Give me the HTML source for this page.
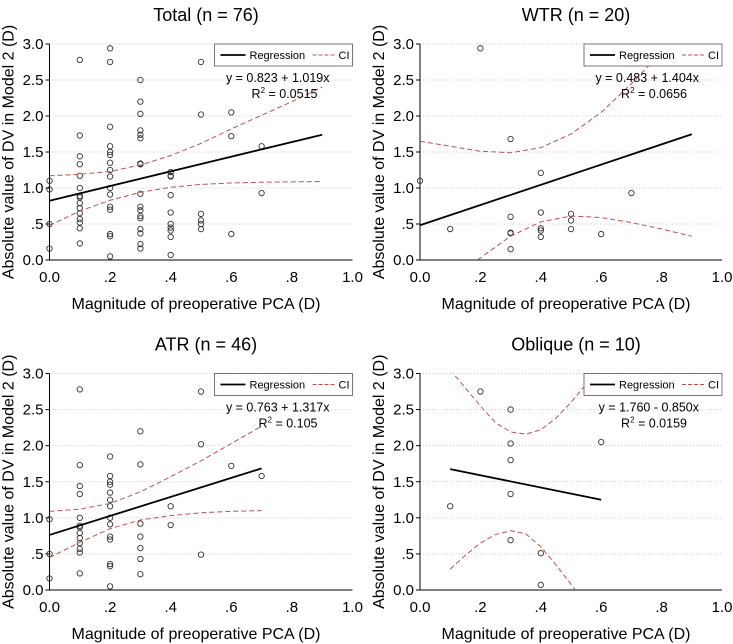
<!DOCTYPE html>
<html><head><meta charset="utf-8">
<style>
html,body{margin:0;padding:0;background:#fff;}
svg{display:block;font-family:"Liberation Sans",Arial,sans-serif;}
</style></head>
<body>
<svg id="chart" width="733" height="644" viewBox="0 0 733 644"></svg>
<script>
// ---- data ----
const yTicks = [0, 0.5, 1, 1.5, 2, 2.5, 3];
const yTickLabels = ["0.0", ".5", "1.0", "1.5", "2.0", "2.5", "3.0"];
const xTicks = [0, 0.2, 0.4, 0.6, 0.8, 1.0];
const xTickLabels = ["0.0", ".2", ".4", ".6", ".8", "1.0"];

const titles = ["Total (n = 76)", "WTR (n = 20)", "ATR (n = 46)", "Oblique (n = 10)"];
const equations = ["y = 0.823 + 1.019x", "y = 0.483 + 1.404x", "y = 0.763 + 1.317x", "y = 1.760 - 0.850x"];
const r2Values = ["0.0515", "0.0656", "0.105", "0.0159"];
const intercepts = [0.823, 0.483, 0.763, 1.760];
const slopes = [1.019, 1.404, 1.317, -0.850];
const regXRange = [[0, 0.9], [0, 0.9], [0, 0.7], [0.1, 0.6]];

const totalX = [0,0,0,0, .1,.1,.1,.1,.1,.1,.1,.1,.1,.1,.1,.1,.1,.1,.1, .2,.2,.2,.2,.2,.2,.2,.2,.2,.2,.2,.2,.2,.2,.2,.2, .3,.3,.3,.3,.3,.3,.3,.3,.3,.3,.3,.3,.3,.3,.3,.3,.3, .4,.4,.4,.4,.4,.4,.4,.4,.4,.4, .5,.5,.5,.5,.5,.5, .6,.6,.6, .7,.7];
const totalY = [1.10,0.98,0.50,0.16, 2.78,1.73,1.44,1.33,1.17,1.00,0.89,0.87,0.79,0.72,0.65,0.57,0.52,0.44,0.23, 2.94,2.75,1.85,1.58,1.50,1.46,1.35,1.25,1.16,1.00,0.91,0.74,0.70,0.36,0.33,0.05, 2.50,2.20,2.03,1.80,1.74,1.69,1.34,1.33,0.92,0.74,0.69,0.61,0.58,0.43,0.37,0.22,0.16, 1.22,1.17,1.16,0.90,0.66,0.50,0.45,0.41,0.32,0.07, 2.75,2.02,0.64,0.55,0.50,0.43, 2.05,1.72,0.36, 1.58,0.93];
const wtrX = [0,.1,.2,.3,.3,.3,.3,.3,.4,.4,.4,.4,.4,.5,.5,.5,.6,.7];
const wtrY = [1.10,0.43,2.94,1.68,0.60,0.38,0.37,0.15,1.21,0.66,0.44,0.41,0.32,0.64,0.55,0.43,0.36,0.93];
const atrX = [0,0,0, .1,.1,.1,.1,.1,.1,.1,.1,.1,.1,.1,.1,.1, .2,.2,.2,.2,.2,.2,.2,.2,.2,.2,.2,.2,.2,.2, .3,.3,.3,.3,.3,.3,.3, .4,.4, .5,.5,.5, .6, .7];
const atrY = [0.98,0.50,0.16, 2.78,1.73,1.44,1.33,1.00,0.89,0.87,0.79,0.72,0.65,0.57,0.52,0.23, 1.85,1.58,1.50,1.46,1.35,1.25,1.16,1.00,0.91,0.74,0.70,0.36,0.33,0.05, 2.20,1.74,0.92,0.74,0.58,0.43,0.22, 1.16,0.90, 2.75,2.02,0.49, 1.72, 1.58];
const oblX = [.1,.2,.3,.3,.3,.3,.3,.4,.4,.6];
const oblY = [1.16,2.75,2.50,2.03,1.80,1.33,0.69,0.51,0.07,2.05];

const ciUpX = [[0,.1,.2,.3,.4,.5,.6,.7,.8,.9],[0,.1,.2,.3,.4,.5,.6,.7,.8,.9],[0,.1,.2,.3,.4,.5,.6,.7],[.1,.15,.2,.25,.3,.35,.4,.45,.5,.55,.6]];
const ciUpY = [[1.17,1.19,1.23,1.32,1.45,1.62,1.82,2.01,2.2,2.4],[1.65,1.58,1.51,1.49,1.56,1.75,2.05,2.45,2.88,3.35],[1.09,1.12,1.20,1.36,1.57,1.79,2.03,2.27],[3.05,2.8,2.55,2.32,2.19,2.16,2.22,2.38,2.6,2.85,3.1]];
const ciLoX = [[0,.1,.2,.3,.4,.5,.6,.7,.8,.9],[.1,.19,.3,.4,.5,.6,.7,.8,.9],[0,.1,.2,.3,.4,.5,.6,.7],[.1,.15,.2,.25,.3,.35,.4,.45,.5,.55]];
const ciLoY = [[0.48,0.68,0.83,0.94,1.01,1.05,1.07,1.08,1.085,1.09],[-0.4,0,0.33,0.53,0.61,0.59,0.52,0.43,0.33],[0.45,0.66,0.85,0.97,1.03,1.07,1.09,1.10],[0.29,0.48,0.65,0.77,0.82,0.78,0.6,0.35,0.08,-0.2]];

const pointsX = [totalX, wtrX, atrX, oblX];
const pointsY = [totalY, wtrY, atrY, oblY];

// ---- layout ----
const NS = "http://www.w3.org/2000/svg";
const svg = document.getElementById('chart');
const panels = [{x0:49.5,x1:352.5,yTop:44,yBot:260},{x0:420,x1:722,yTop:44,yBot:260},{x0:49.5,x1:352.5,yTop:373.5,yBot:590},{x0:420,x1:722,yTop:373.5,yBot:590}];
const names = ["total","wtr","atr","oblique"];
function mk(tag, attrs, parent){const e=document.createElementNS(NS,tag);for(const k in attrs)e.setAttribute(k,attrs[k]);(parent||svg).appendChild(e);return e;}

panels.forEach((P,i)=>{
  const sx = v => P.x0 + v*(P.x1-P.x0);
  const sy = v => P.yBot - v/3*(P.yBot-P.yTop);
  const g = mk('g',{});
  
  
  const cid = 'clip'+i;
  const cp = mk('clipPath',{id:cid},g);
  mk('rect',{x:P.x0,y:P.yTop,width:P.x1-P.x0,height:P.yBot-P.yTop},cp);
  const t = mk('text',{x:(P.x0+P.x1)/2+5,y:P.yTop-23,'text-anchor':'middle','font-size':'18'},g);
  t.textContent = titles[i];
  
  
  yTicks.forEach((v,k)=>{
    if(v>0){const gl=mk('line',{x1:P.x0,x2:P.x1,y1:sy(v),y2:sy(v),stroke:'#c8c8c8','stroke-width':1,'stroke-dasharray':'1 2'},g);
      
      }
    mk('line',{x1:P.x0-4,x2:P.x0,y1:sy(v),y2:sy(v),stroke:'#000'},g);
    const tl=mk('text',{x:P.x0-6,y:sy(v)+5,'text-anchor':'end','font-size':'15'},g);
    tl.textContent=yTickLabels[k];
    
    
  });
  xTicks.forEach((v,k)=>{
    const tl=mk('text',{x:sx(v),y:P.yBot+22,'text-anchor':'middle','font-size':'15'},g);
    tl.textContent=xTickLabels[k];
    
    
  });
  const ya=mk('line',{x1:P.x0,x2:P.x0,y1:P.yTop,y2:P.yBot,stroke:'#000','stroke-width':1},g);
  
  
  const xa=mk('line',{x1:P.x0,x2:P.x1,y1:P.yBot,y2:P.yBot,stroke:'#000','stroke-width':1},g);
  
  
  const xt=mk('text',{x:(P.x0+P.x1)/2-5,y:P.yBot+49,'text-anchor':'middle','font-size':'16'},g);
  xt.textContent='Magnitude of preoperative PCA (D)';
  
  
  const ytx=P.x0-36, yty=(P.yTop+P.yBot)/2;
  const yt=mk('text',{x:ytx,y:yty,'text-anchor':'middle','font-size':'16',transform:`rotate(-90 ${ytx} ${yty})`},g);
  yt.textContent='Absolute value of DV in Model 2 (D)';
  
  
  pointsX[i].forEach((xv,k)=>{
    const c=mk('circle',{cx:sx(xv),cy:sy(pointsY[i][k]),r:2.7,fill:'none',stroke:'#333','stroke-width':0.9},g);
    
    
  });
  const upPts=ciUpX[i].map((xv,k)=>sx(xv)+','+sy(ciUpY[i][k])).join(' ');
  const loPts=ciLoX[i].map((xv,k)=>sx(xv)+','+sy(ciLoY[i][k])).join(' ');
  const cu=mk('polyline',{points:upPts,fill:'none',stroke:'#c0504d','stroke-width':1,'stroke-dasharray':'5 3','clip-path':`url(#${cid})`},g);
  
  
  const cl=mk('polyline',{points:loPts,fill:'none',stroke:'#c0504d','stroke-width':1,'stroke-dasharray':'5 3','clip-path':`url(#${cid})`},g);
  
  
  const [ra,rb]=regXRange[i];
  const rl=mk('line',{x1:sx(ra),y1:sy(intercepts[i]+slopes[i]*ra),x2:sx(rb),y2:sy(intercepts[i]+slopes[i]*rb),stroke:'#000','stroke-width':1.8},g);
  
  
  const lg=mk('g',{},g);
  
  
  const lx=P.x1-138, ly=P.yTop;
  mk('rect',{x:lx,y:ly,width:138,height:22,fill:'#fff',stroke:'#555','stroke-width':0.8},lg);
  mk('line',{x1:lx+6,x2:lx+31,y1:ly+11,y2:ly+11,stroke:'#000','stroke-width':1.8},lg);
  const lt1=mk('text',{x:lx+35,y:ly+15,'font-size':'11'},lg); lt1.textContent='Regression';
  
  
  mk('line',{x1:lx+98,x2:lx+120,y1:ly+11,y2:ly+11,stroke:'#c0504d','stroke-width':1,'stroke-dasharray':'4 2'},lg);
  const lt2=mk('text',{x:lx+124,y:ly+15,'font-size':'11'},lg); lt2.textContent='CI';
  
  
  const eq=mk('text',{x:P.x1-23,y:P.yTop+38,'text-anchor':'end','font-size':'12.5'},g);
  eq.textContent=equations[i];
  
  
  const r2=mk('text',{x:P.x1-35,y:P.yTop+54,'text-anchor':'end','font-size':'12.5'},g);
  r2.innerHTML='R<tspan dy="-5" font-size="8">2</tspan><tspan dy="5"> = '+r2Values[i]+'</tspan>';
  
  
});
</script>
</body></html>
